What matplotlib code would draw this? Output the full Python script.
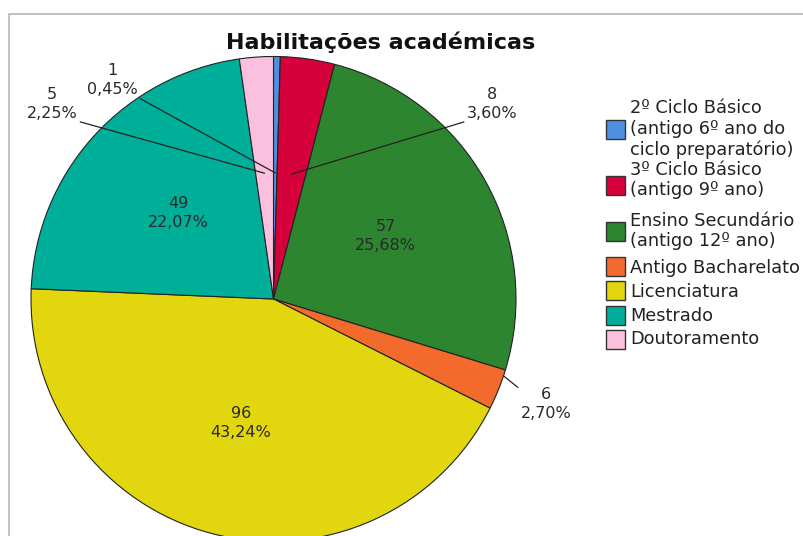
import numpy as np
import matplotlib
matplotlib.use("Agg")
import matplotlib.pyplot as plt
from matplotlib.patches import Rectangle

plt.rcParams['font.family'] = ['DejaVu Sans']

# ---- data ----
categories = [
    "2º Ciclo Básico\n(antigo 6º ano do\nciclo preparatório)",
    "3º Ciclo Básico\n(antigo 9º ano)",
    "Ensino Secundário\n(antigo 12º ano)",
    "Antigo Bacharelato",
    "Licenciatura",
    "Mestrado",
    "Doutoramento",
]
counts = [1, 8, 57, 6, 96, 49, 5]
colors = ["#4F8FE0", "#D6003A", "#2D8530", "#F26A2C", "#E2D60E", "#00AF9A", "#FBC0DE"]
title = "Habilitações académicas"

# ---- layout (pixels) ----
W, H = 804, 536
cx, cy, R = 273.5, 299.0, 242.5

fig = plt.figure(figsize=(W / 100, H / 100), dpi=100)
ax = fig.add_axes([(cx - R) / W, (H - (cy + R)) / H, 2 * R / W, 2 * R / H])

wedges, _ = ax.pie(counts, colors=colors, startangle=90, counterclock=False,
                   radius=1.0, wedgeprops=dict(edgecolor="#222222", linewidth=0.8))
ax.set_xlim(-1, 1)
ax.set_ylim(-1, 1)
ax.set_aspect('equal')
ax.axis('off')

total = sum(counts)
labels = [f"{v}\n{v / total * 100:.2f}%".replace('.', ',') for v in counts]

# outside label placements (data coords), leader inner radius, fraction along wedge, relpos
outside = {
    0: ((-0.666, 0.903), 0.52, 0.5, (1.0, 0.0)),
    1: ((0.901, 0.804), 0.52, 0.5, (0.0, 0.0)),
    3: ((1.124, -0.433), 1.0, 0.15, (0.0, 0.92)),
    6: ((-0.913, 0.804), 0.52, 0.5, (1.0, 0.0)),
}
txtcol = "#2a2a2a"
fs = 11.5
for i, w in enumerate(wedges):
    mid = np.deg2rad((w.theta1 + w.theta2) / 2)
    if i in outside:
        pos, rin, frac, rp = outside[i]
        ang = np.deg2rad(w.theta2 + (w.theta1 - w.theta2) * frac)
        ax.annotate(labels[i], xy=(rin * np.cos(ang), rin * np.sin(ang)), xytext=pos,
                    ha='center', va='center', fontsize=fs, color=txtcol,
                    linespacing=1.35, annotation_clip=False,
                    arrowprops=dict(arrowstyle='-', color='#222222', lw=0.9,
                                    shrinkA=0, shrinkB=0, relpos=rp))
    else:
        r = 0.53
        ax.text(r * np.cos(mid), r * np.sin(mid), labels[i], ha='center', va='center',
                fontsize=fs, color=txtcol, linespacing=1.35)

# title
fig.text(381 / W, 1 - 42 / H, title, ha='center', va='center', fontsize=16,
         fontweight='bold', color='#111111')

# legend (manual)
patch_y = [129, 185, 231, 266.5, 290.5, 315.5, 339.5]
text_y = [129, 180, 231, 268, 292, 316, 339]
ps = 19
for c, lab, py, ty in zip(colors, categories, patch_y, text_y):
    fig.add_artist(Rectangle((606 / W, (H - py - ps / 2) / H), ps / W, ps / H,
                             transform=fig.transFigure, facecolor=c,
                             edgecolor='#333333', lw=1.0))
    fig.text(630 / W, 1 - ty / H, lab, ha='left', va='center', fontsize=12.8,
             color='#222222', linespacing=1.17)

# outer frame
fig.add_artist(Rectangle((8.5 / W, (H - 560) / H), 820 / W, 546 / H,
                         transform=fig.transFigure, facecolor='none',
                         edgecolor='#b8b8b8', lw=1.2))

fig.savefig("out.png", dpi=100)
